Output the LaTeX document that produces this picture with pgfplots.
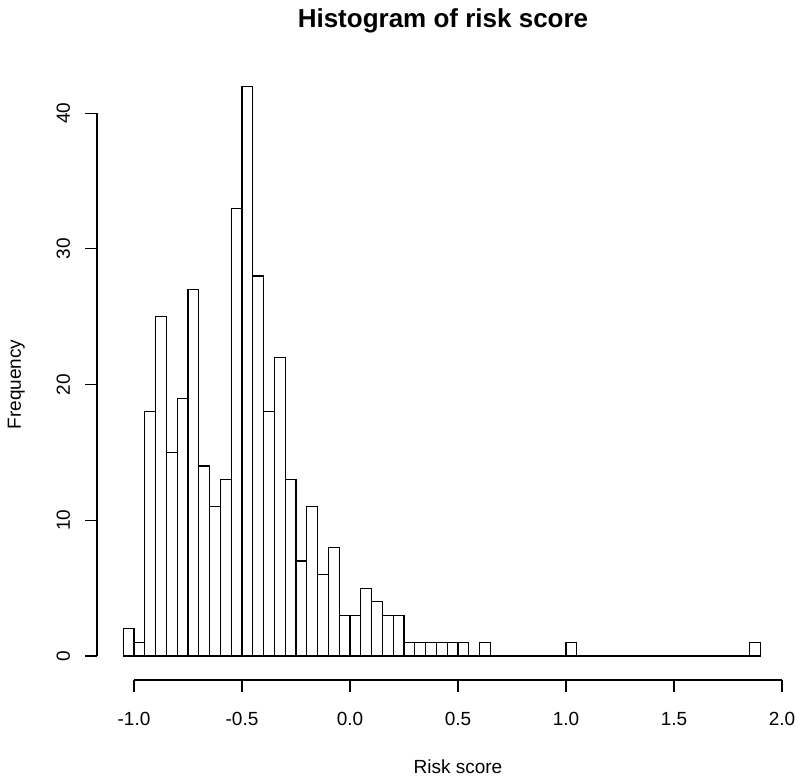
\documentclass[border=0pt]{standalone}
\usepackage{fontspec}
\setmainfont{Liberation Sans}
\usepackage{pgfplots}
\pgfplotsset{compat=1.18}

% counts per bin of width 0.05, left edges; last row closes the interval
\pgfplotstableread{
x     n
-1.05 2
-1.00 1
-0.95 18
-0.90 25
-0.85 15
-0.80 19
-0.75 27
-0.70 14
-0.65 11
-0.60 13
-0.55 33
-0.50 42
-0.45 28
-0.40 18
-0.35 22
-0.30 13
-0.25 7
-0.20 11
-0.15 6
-0.10 8
-0.05 3
0.00  3
0.05  5
0.10  4
0.15  3
0.20  3
0.25  1
0.30  1
0.35  1
0.40  1
0.45  1
0.50  1
0.55  0
0.60  1
0.65  0
0.70  0
0.75  0
0.80  0
0.85  0
0.90  0
0.95  0
1.00  1
1.05  0
1.10  0
1.15  0
1.20  0
1.25  0
1.30  0
1.35  0
1.40  0
1.45  0
1.50  0
1.55  0
1.60  0
1.65  0
1.70  0
1.75  0
1.80  0
1.85  1
1.90  0
}\riskdata

\begin{document}
\begin{tikzpicture}
  \path[use as bounding box] (0,0) rectangle (400pt,388.5pt);

  % bars
  \begin{axis}[
    at={(61.6pt,60.5pt)}, anchor=south west,
    x=108pt, y=6.785pt,
    xmin=-1.05, xmax=1.9, ymin=0, ymax=42,
    hide axis, clip=false
  ]
    \addplot[ybar interval, fill=white, draw=black, line width=0.55pt]
      table[x=x, y=n] {\riskdata};
  \end{axis}

  % x axis, R style
  \begin{axis}[
    at={(67pt,48.5pt)}, anchor=south west,
    x=108pt, y=1pt,
    xmin=-1, xmax=2, ymin=0, ymax=1,
    hide y axis, axis x line=bottom,
    x axis line style={-, line width=0.6pt},
    xtick={-1,-0.5,0,0.5,1,1.5,2},
    xticklabels={-1.0,-0.5,0.0,0.5,1.0,1.5,2.0},
    tick align=outside, major tick length=6pt,
    tick style={black, line width=0.6pt},
    tick label style={font=\fontsize{9.5}{11}\selectfont},
    xticklabel style={yshift=-6.5pt},
    xlabel={Risk score},
    xlabel style={font=\fontsize{9.5}{11}\selectfont, yshift=-10pt}
  ]
  \end{axis}

  % y axis, R style
  \begin{axis}[
    at={(48.5pt,60.5pt)}, anchor=south west,
    x=1pt, y=6.785pt,
    xmin=0, xmax=1, ymin=0, ymax=40,
    hide x axis, axis y line=left,
    y axis line style={-, line width=0.6pt},
    ytick={0,10,20,30,40},
    yticklabels={0,10,20,30,40},
    tick align=outside, major tick length=6pt,
    tick style={black, line width=0.6pt},
    tick label style={font=\fontsize{9.5}{11}\selectfont},
    yticklabel style={rotate=90, anchor=south, yshift=4pt},
    ylabel={Frequency},
    ylabel style={font=\fontsize{9.5}{11}\selectfont, yshift=9pt}
  ]
  \end{axis}

  \node[font=\bfseries\fontsize{13}{15}\selectfont] at (221.5pt,378pt) {Histogram of risk score};
\end{tikzpicture}
\end{document}
